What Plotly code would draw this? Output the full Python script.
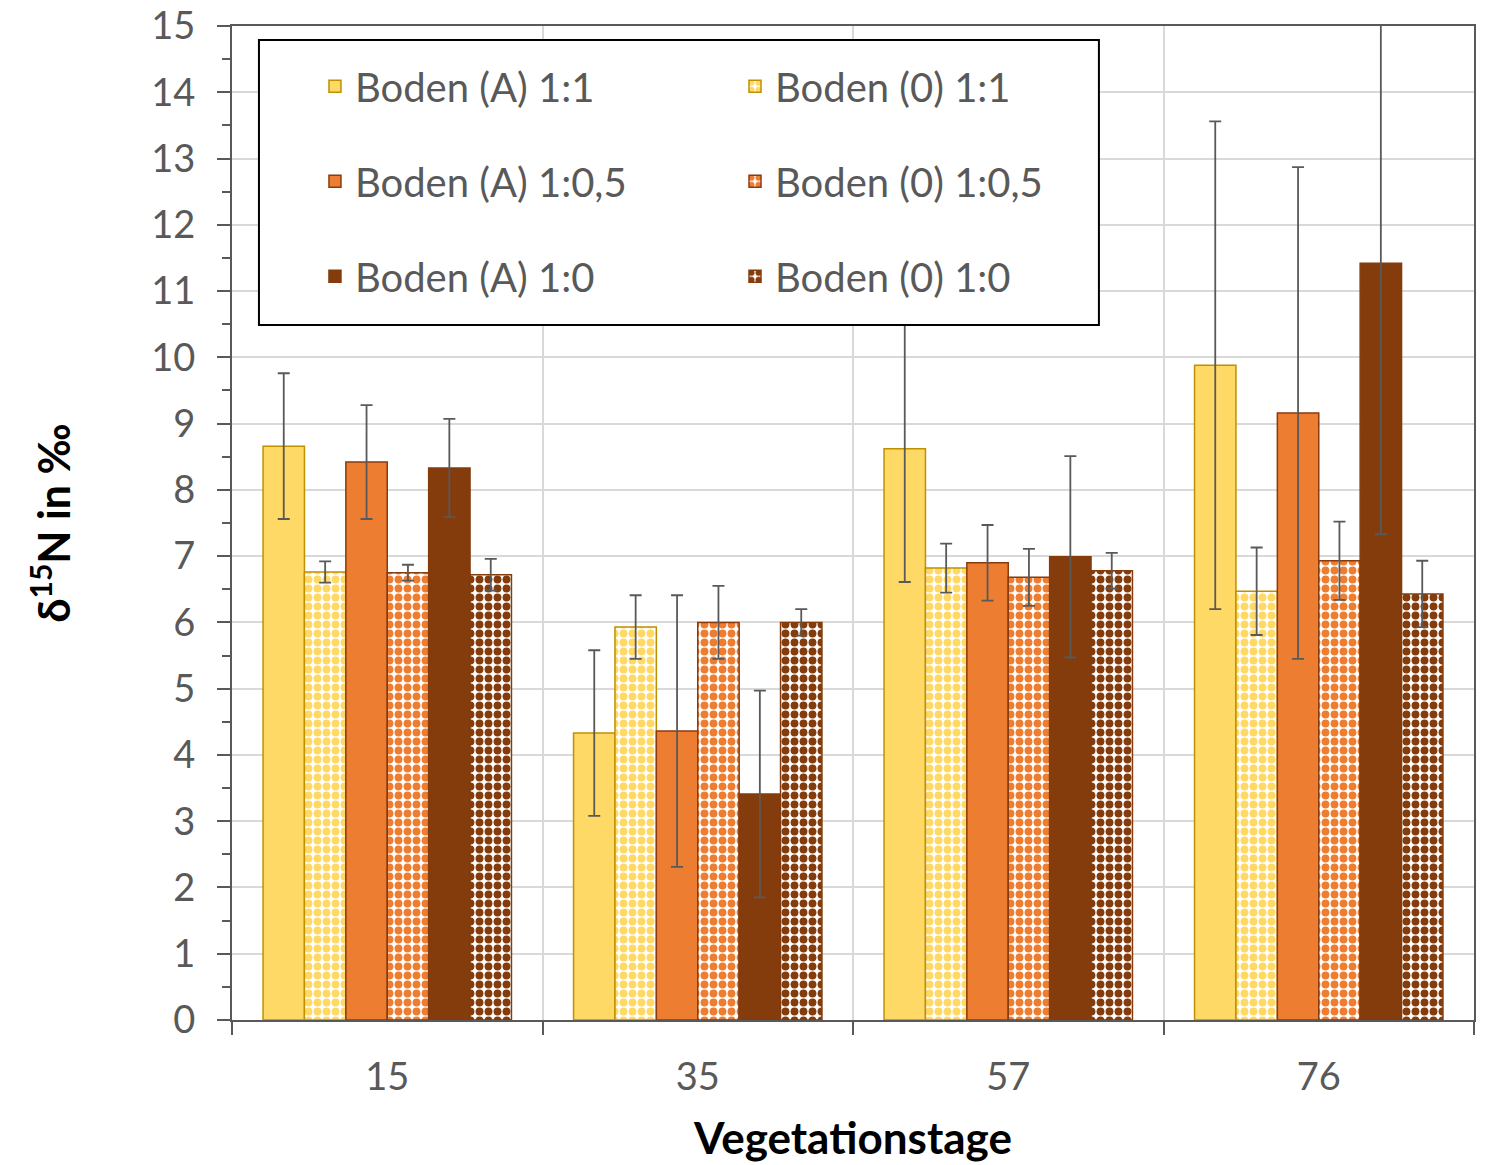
import plotly.graph_objects as go

stages = ["15", "35", "57", "76"]

series_names = ["Boden (A) 1:1", "Boden (0) 1:1", "Boden (A) 1:0,5",
                "Boden (0) 1:0,5", "Boden (A) 1:0", "Boden (0) 1:0"]

a_11 = [8.66, 4.33, 8.62, 9.88]
a_11_err = [1.10, 1.25, 2.01, 3.68]
o_11 = [6.76, 5.93, 6.82, 6.47]
o_11_err = [0.16, 0.48, 0.37, 0.66]
a_105 = [8.42, 4.36, 6.90, 9.16]
a_105_err = [0.86, 2.05, 0.57, 3.71]
o_105 = [6.75, 6.00, 6.68, 6.93]
o_105_err = [0.12, 0.55, 0.43, 0.59]
a_10 = [8.33, 3.41, 6.99, 11.42]
a_10_err = [0.74, 1.56, 1.52, 4.09]
o_10 = [6.72, 6.00, 6.78, 6.43]
o_10_err = [0.24, 0.20, 0.27, 0.50]

values = [a_11, o_11, a_105, o_105, a_10, o_10]
errors = [a_11_err, o_11_err, a_105_err, o_105_err, a_10_err, o_10_err]
fills = ["#FFD966", "#FFD966", "#ED7D31", "#ED7D31", "#843C0C", "#843C0C"]
outlines = ["#BF9000", "#BF9000", "#8A3B0E", "#8A3B0E", "#843C0C", "#843C0C"]
patterned = [False, True, False, True, False, True]
legend_ids = ["legend", "legend2", "legend", "legend2", "legend", "legend2"]

FONT = "Lato"
GRAY = "#595959"

fig = go.Figure()
for i in range(6):
    marker = dict(color=fills[i], line=dict(color=outlines[i], width=1.5))
    if patterned[i]:
        marker["pattern"] = dict(shape=".", size=9, solidity=0.6,
                                 fgcolor=fills[i], bgcolor="white", fillmode="replace")
    fig.add_trace(go.Bar(
        x=stages, y=values[i], name=series_names[i],
        marker=marker,
        error_y=dict(type="data", array=errors[i], visible=True,
                     color=GRAY, thickness=1.8, width=6),
        legend=legend_ids[i], legendgroup=series_names[i],
        cliponaxis=True,
    ))

legend_common = dict(
    font=dict(family=FONT, size=40, color=GRAY),
    bgcolor="rgba(0,0,0,0)", borderwidth=0,
    traceorder="grouped", tracegroupgap=40,
    xanchor="left", yanchor="top",
)

fig.update_layout(
    width=1487, height=1165,
    margin=dict(l=232, r=13, t=26, b=145),
    paper_bgcolor="white", plot_bgcolor="white",
    barmode="group", bargap=0.2, bargroupgap=0,
    font=dict(family=FONT, color=GRAY),
    showlegend=True,
    legend=dict(x=0.0668, y=0.972, **legend_common),
    legend2=dict(x=0.405, y=0.972, **legend_common),
    shapes=[dict(type="rect", xref="paper", yref="paper",
                 x0=0.0217, x1=0.698, y0=0.6992, y1=0.9859,
                 line=dict(color="black", width=2), fillcolor="white",
                 layer="above")],
)

fig.update_xaxes(
    type="category", tickson="boundaries", automargin=False,
    showgrid=True, gridcolor="#D9D9D9", gridwidth=1.5,
    showline=True, linecolor=GRAY, linewidth=2, mirror=True,
    ticks="outside", ticklen=13, tickwidth=2, tickcolor=GRAY,
    ticklabelstandoff=22,
    tickfont=dict(family=FONT, size=38, color=GRAY),
    title=dict(text="Vegetationstage",
               font=dict(family=FONT, size=44, color="black", weight="bold"),
               standoff=27),
)
fig.update_yaxes(
    range=[0, 15], dtick=1, tick0=0, automargin=False,
    showgrid=True, gridcolor="#D9D9D9", gridwidth=1.5,
    showline=True, linecolor=GRAY, linewidth=2, mirror=True,
    ticks="outside", ticklen=13, tickwidth=2, tickcolor=GRAY,
    ticklabelstandoff=14,
    minor=dict(dtick=0.5, ticks="outside", ticklen=8, tickwidth=2,
               tickcolor=GRAY, showgrid=False),
    tickfont=dict(family=FONT, size=38, color=GRAY),
    zeroline=False,
    title=dict(text="δ<sup>15</sup>N in ‰",
               font=dict(family=FONT, size=43, color="black", weight="bold"),
               standoff=67),
)

fig.write_html("out.html", config={"displayModeBar": False},
               post_script="document.body.style.margin='0px';")
